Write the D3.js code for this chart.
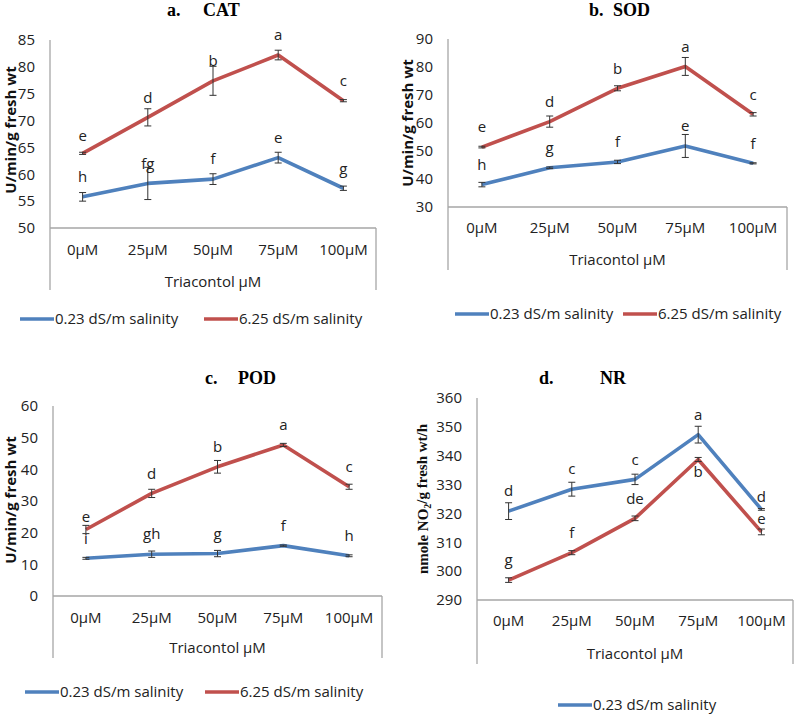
<!DOCTYPE html>
<html>
<head>
<meta charset="utf-8">
<script src="https://cdn.jsdelivr.net/npm/d3@7"></script>
<style>
  body { margin: 0; background: #fff; }
  svg { display: block; }
</style>
</head>
<body>
<svg id="chart" width="794" height="714"></svg>
<script>
// categories and series names
const doses = ["0µM", "25µM", "50µM", "75µM", "100µM"]
const seriesNames = ["0.23 dS/m salinity", "6.25 dS/m salinity"]

// a. CAT
const catLow = [55.8, 58.3, 59.1, 63.1, 57.4]
const catLowErr = [0.8, 3.0, 1.0, 1.0, 0.4]
const catLowLetters = ["h", "fg", "f", "e", "g"]
const catHigh = [63.9, 70.6, 77.4, 82.2, 73.7]
const catHighErr = [0.2, 1.6, 2.7, 0.9, 0.2]
const catHighLetters = ["e", "d", "b", "a", "c"]
const catTicks = [50, 55, 60, 65, 70, 75, 80, 85]

// b. SOD
const sodLow = [38.0, 44.0, 46.1, 51.8, 45.6]
const sodLowErr = [0.8, 0.3, 0.6, 4.1, 0.2]
const sodLowLetters = ["h", "g", "f", "e", "f"]
const sodHigh = [51.4, 60.5, 72.4, 80.2, 63.1]
const sodHighErr = [0.3, 2.0, 0.9, 3.2, 0.6]
const sodHighLetters = ["e", "d", "b", "a", "c"]
const sodTicks = [30, 40, 50, 60, 70, 80, 90]

// c. POD
const podLow = [11.9, 13.2, 13.4, 15.9, 12.7]
const podLowErr = [0.3, 1.0, 1.0, 0.2, 0.3]
const podLowLetters = ["i", "gh", "g", "f", "h"]
const podHigh = [21.0, 32.4, 40.8, 47.7, 34.5]
const podHighErr = [1.3, 1.3, 2.0, 0.5, 0.8]
const podHighLetters = ["e", "d", "b", "a", "c"]
const podTicks = [0, 10, 20, 30, 40, 50, 60]

// d. NR
const nrLow = [320.8, 328.4, 331.8, 347.3, 321.4]
const nrLowErr = [2.9, 2.4, 1.8, 2.9, 0.3]
const nrLowLetters = ["d", "c", "c", "a", "d"]
const nrHigh = [296.9, 306.4, 318.3, 338.7, 313.6]
const nrHighErr = [0.8, 0.7, 0.8, 0.7, 1.0]
const nrHighLetters = ["g", "f", "de", "b", "e"]
const nrTicks = [290, 300, 310, 320, 330, 340, 350, 360]

const colors = ["#4F81BD", "#C0504D"]
const sans = "'Open Sans', 'Noto Sans', sans-serif"
const serif = "'Liberation Serif', 'DejaVu Serif', serif"
const fs = 15

const panels = [
  {tag: "a.", name: "CAT", tagX: 167, nameX: 203, titleY: 16,
   left: 50, right: 376, top: 40, bottom: 228, boxBottom: 290, catY: 250, xTitleY: 282,
   ticks: catTicks, yLabelX: 11, yLabelY: 130,
   series: [[catLow, catLowErr, catLowLetters], [catHigh, catHighErr, catHighLetters]],
   shift: {"1-0": 18},
   legendY: 319, legendX: [20, 204]},
  {tag: "b.", name: "SOD", tagX: 589, nameX: 613, titleY: 16,
   left: 448, right: 787, top: 39, bottom: 207, boxBottom: 270, catY: 228, xTitleY: 260,
   ticks: sodTicks, yLabelX: 408, yLabelY: 123,
   series: [[sodLow, sodLowErr, sodLowLetters], [sodHigh, sodHighErr, sodHighLetters]],
   shift: {},
   legendY: 314, legendX: [455, 623]},
  {tag: "c.", name: "POD", tagX: 205, nameX: 238, titleY: 384,
   left: 53, right: 382, top: 406, bottom: 596, boxBottom: 658, catY: 618, xTitleY: 648,
   ticks: podTicks, yLabelX: 11, yLabelY: 500,
   series: [[podLow, podLowErr, podLowLetters], [podHigh, podHighErr, podHighLetters]],
   shift: {"1-0": 13},
   legendY: 692, legendX: [25, 205]},
  {tag: "d.", name: "NR", tagX: 539, nameX: 600, titleY: 384,
   left: 477, right: 793, top: 398, bottom: 600, boxBottom: 664, catY: 621, xTitleY: 654,
   ticks: nrTicks, yLabelX: 423, yLabelY: 499, serifLabel: true,
   series: [[nrLow, nrLowErr, nrLowLetters], [nrHigh, nrHighErr, nrHighLetters]],
   shift: {"1-3": -12, "1-4": 13, "0-4": 13},
   legendY: 705, legendX: [558]}
]

const svg = d3.select("#chart")

panels.forEach(p => {
  const g = svg.append("g")

  const x = d3.scaleBand()
      .domain(doses)
      .range([p.left, p.right])
  const y = d3.scaleLinear()
      .domain(d3.extent(p.ticks))
      .range([p.bottom, p.top])

  // title
  g.append("text")
      .attr("x", p.tagX).attr("y", p.titleY)
      .attr("font-family", serif).attr("font-weight", "bold").attr("font-size", 18)
      .text(p.tag)
  g.append("text")
      .attr("x", p.nameX).attr("y", p.titleY)
      .attr("font-family", serif).attr("font-weight", "bold").attr("font-size", 18)
      .text(p.name)

  // y axis
  const yAxis = g.append("g")
      .attr("transform", `translate(${p.left},0)`)
      .call(d3.axisLeft(y).tickValues(p.ticks).tickSize(0).tickPadding(15).tickFormat(d3.format("d")))
  yAxis.select(".domain").remove()
  yAxis.selectAll("text")
      .attr("font-family", sans).attr("font-size", fs).attr("fill", "#222")

  // category axis, with the box lines round the labels
  const xAxis = g.append("g")
      .attr("transform", `translate(0,${p.catY})`)
      .call(d3.axisBottom(x).tickSize(0).tickPadding(0))
  xAxis.select(".domain").remove()
  xAxis.selectAll("text")
      .attr("dy", "0.35em")
      .attr("font-family", sans).attr("font-size", fs).attr("fill", "#222")

  const frame = g.append("g").attr("stroke", "#a6a6a6").attr("stroke-width", 1.3)
  frame.append("line").attr("x1", p.left).attr("x2", p.left).attr("y1", p.top).attr("y2", p.boxBottom)
  frame.append("line").attr("x1", p.left).attr("x2", p.right).attr("y1", p.bottom).attr("y2", p.bottom)
  frame.append("line").attr("x1", p.right).attr("x2", p.right).attr("y1", p.bottom).attr("y2", p.boxBottom)

  g.append("text")
      .attr("x", (p.left + p.right) / 2).attr("y", p.xTitleY)
      .attr("dy", "0.35em").attr("text-anchor", "middle")
      .attr("font-family", sans).attr("font-size", fs).attr("fill", "#222")
      .text("Triacontol µM")

  // y axis title
  const yt = g.append("text")
      .attr("transform", `translate(${p.yLabelX},${p.yLabelY}) rotate(-90)`)
      .attr("text-anchor", "middle").attr("dy", "0.35em")
      .attr("font-weight", "bold").attr("fill", "#111")
  if (p.serifLabel) {
    yt.attr("font-family", serif).attr("font-size", 15)
    yt.append("tspan").text("nmole NO")
    yt.append("tspan").attr("font-size", 10).attr("dy", "0.3em").text("2")
    yt.append("tspan").attr("dy", "-0.3em").text("/g fresh wt/h")
  } else {
    yt.attr("font-family", sans).attr("font-size", 15).text("U/min/g fresh wt")
  }

  const cx = d => x(d) + x.bandwidth() / 2
  const line = d3.line().x(d => cx(d.dose)).y(d => y(d.v))

  p.series.forEach(([vals, errs, letters], si) => {
    const rows = doses.map((dose, i) => ({dose, v: vals[i], e: errs[i], l: letters[i], i}))

    g.append("path")
        .datum(rows)
        .attr("fill", "none")
        .attr("stroke", colors[si])
        .attr("stroke-width", 3.6)
        .attr("stroke-linejoin", "round")
        .attr("d", line)

    const eb = g.append("g").attr("stroke", "#333").attr("stroke-width", 1)
        .selectAll("g").data(rows).join("g")
    eb.append("line")
        .attr("x1", d => cx(d.dose)).attr("x2", d => cx(d.dose))
        .attr("y1", d => y(d.v - d.e)).attr("y2", d => y(d.v + d.e))
    eb.append("line")
        .attr("x1", d => cx(d.dose) - 3.5).attr("x2", d => cx(d.dose) + 3.5)
        .attr("y1", d => y(d.v + d.e)).attr("y2", d => y(d.v + d.e))
    eb.append("line")
        .attr("x1", d => cx(d.dose) - 3.5).attr("x2", d => cx(d.dose) + 3.5)
        .attr("y1", d => y(d.v - d.e)).attr("y2", d => y(d.v - d.e))

    g.append("g")
        .attr("font-family", sans).attr("font-size", fs).attr("fill", "#222")
        .attr("text-anchor", "middle")
        .selectAll("text").data(rows).join("text")
        .attr("x", d => cx(d.dose))
        .attr("y", d => y(d.v) - (p.shift[`${si}-${d.i}`] ?? 20))
        .attr("dy", "0.35em")
        .text(d => d.l)
  })

  // legend
  p.legendX.forEach((lx, si) => {
    g.append("line")
        .attr("x1", lx).attr("x2", lx + 34)
        .attr("y1", p.legendY).attr("y2", p.legendY)
        .attr("stroke", colors[si]).attr("stroke-width", 3.6)
    g.append("text")
        .attr("x", lx + 35).attr("y", p.legendY).attr("dy", "0.35em")
        .attr("font-family", sans).attr("font-size", fs).attr("fill", "#222")
        .text(seriesNames[si])
  })
})
</script>
</body>
</html>
